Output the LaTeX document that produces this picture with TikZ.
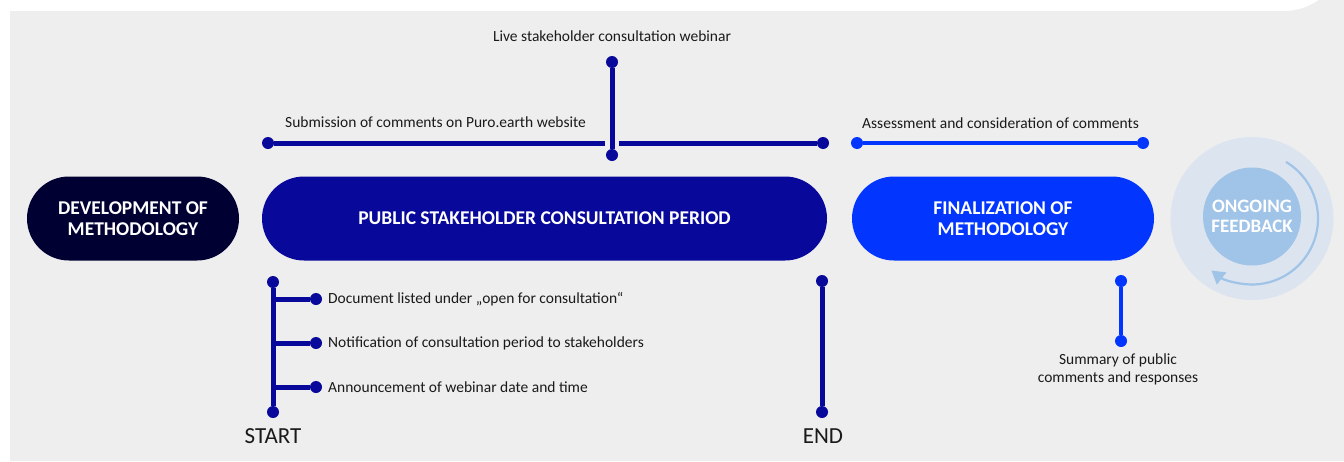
\documentclass[tikz,border=0pt]{standalone}
\usepackage{fontspec}
\setmainfont{Carlito}
\usetikzlibrary{arrows.meta}
\definecolor{bgGrey}{HTML}{EEEEEE}
\definecolor{navyDark}{HTML}{000033}
\definecolor{navy}{HTML}{08089A}
\definecolor{brightBlue}{HTML}{0236FF}
\definecolor{haloBlue}{HTML}{DCE5EF}
\definecolor{softBlue}{HTML}{A0C3E8}
\definecolor{txt}{HTML}{1A1A1A}
\tikzset{
  pill/.style={rectangle, rounded corners=42pt, minimum height=84pt, text=white,
    font=\fontsize{19.5}{20.5}\selectfont\bfseries, align=center, inner sep=0pt},
  dotnode/.style={circle, fill=#1, inner sep=0pt, minimum size=12pt},
  stem/.style={line width=5pt, draw=#1},
  lbl/.style={text=txt, font=\fontsize{15.5}{18}\selectfont, inner sep=0pt},
  endlbl/.style={text=txt, font=\fontsize{23}{26}\selectfont, inner sep=0pt},
}
\begin{document}
\begin{tikzpicture}[x=1pt,y=-1pt]
\useasboundingbox (0,0) rectangle (1344,461);
% background panel with a rounded upper right corner
\fill[bgGrey] (10,11) -- (1284,11) arc[start angle=90,end angle=0,radius=60] -- (1344,461) -- (10,461) -- cycle;

% main phases
\node[pill, fill=navyDark, minimum width=212pt] (dev) at (133,218.5) {DEVELOPMENT OF\\METHODOLOGY};
\node[pill, fill=navy, minimum width=565pt] (pub) at (544.5,218.5) {PUBLIC STAKEHOLDER CONSULTATION PERIOD};
\node[pill, fill=brightBlue, minimum width=302pt] (fin) at (1003,218.5) {FINALIZATION OF\\METHODOLOGY};

% ongoing feedback loop
\node[circle, fill=haloBlue, minimum size=163pt, inner sep=0pt] (halo) at (1252,218.5) {};
\node[circle, fill=softBlue, minimum size=98pt, inner sep=0pt, text=white, align=center,
      font=\fontsize{19}{20}\selectfont\bfseries] (fb) at (1252,216.5) {ONGOING\\FEEDBACK};
\draw[softBlue, line width=2.2pt, -{Triangle[length=13pt,width=15pt]}]
  ([shift={(59:66pt)}]halo.center) arc[start angle=59,end angle=-128,radius=66pt];

% submission line and webinar stem
\node[dotnode=navy] (subL) at (268,143) {};
\node[dotnode=navy] (subR) at (823,143) {};
\coordinate (gapL) at (605,143);
\coordinate (gapR) at (619,143);
\draw[stem=navy] (subL) -- (gapL);
\draw[stem=navy] (gapR) -- (subR);
\node[dotnode=navy] (webT) at (612,62) {};
\node[dotnode=navy] (webB) at (612,155) {};
\draw[stem=navy] (webT) -- (webB);
\node[lbl, anchor=base] at (612,41.5) {Live stakeholder consultation webinar};
\node[lbl, anchor=base west] at (285,127.5) {Submission of comments on Puro.earth website};

% assessment line
\node[dotnode=brightBlue] (assL) at (857,143) {};
\node[dotnode=brightBlue] (assR) at (1143,143) {};
\draw[stem=brightBlue, line width=4.4pt] (assL) -- (assR);
\node[lbl, anchor=base west] at (862,128) {Assessment and consideration of comments};

% start of consultation
\node[dotnode=navy] (stT) at (273,282) {};
\node[dotnode=navy] (stB) at (273,412) {};
\draw[stem=navy] (stT) -- (stB);
\node[dotnode=navy] (b1) at (316,299) {};
\node[dotnode=navy] (b2) at (316,343) {};
\node[dotnode=navy] (b3) at (316,387) {};
\coordinate (j1) at (273,299);
\coordinate (j2) at (273,343);
\coordinate (j3) at (273,387);
\draw[stem=navy] (j1) -- (b1);
\draw[stem=navy] (j2) -- (b2);
\draw[stem=navy] (j3) -- (b3);
\node[lbl, anchor=west] at (328,299) {Document listed under „open for consultation“};
\node[lbl, anchor=west] at (328,343) {Notification of consultation period to stakeholders};
\node[lbl, anchor=west] at (328,387) {Announcement of webinar date and time};
\node[endlbl, anchor=base] at (273,443) {START};

% end of consultation
\node[dotnode=navy] (enT) at (822,281) {};
\node[dotnode=navy] (enB) at (822,412) {};
\draw[stem=navy] (enT) -- (enB);
\node[endlbl, anchor=base] at (823,443) {END};

% summary of comments
\node[dotnode=brightBlue] (smT) at (1121,281) {};
\node[dotnode=brightBlue] (smB) at (1121,341) {};
\draw[stem=brightBlue, line width=4.4pt] (smT) -- (smB);
\node[lbl, align=center, anchor=north, font=\fontsize{15.5}{18}\selectfont] at (1118,354) {Summary of public\\comments and responses};
\end{tikzpicture}
\end{document}
